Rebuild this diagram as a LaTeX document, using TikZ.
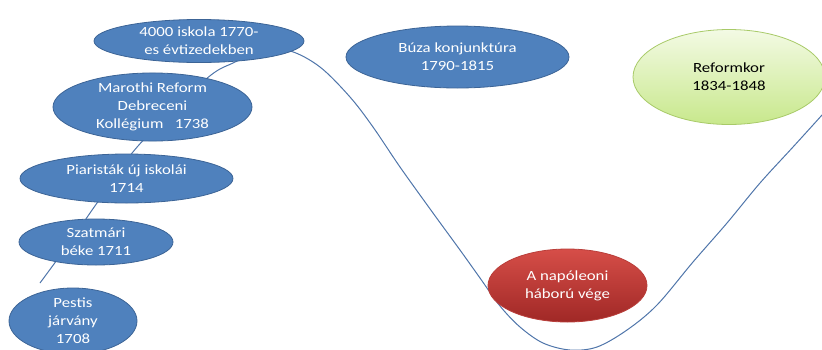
\documentclass[tikz,border=0pt]{standalone}
\usepackage{fontspec}
\setmainfont{Carlito}[FakeStretch=1.2]
\usetikzlibrary{shapes.geometric}
\definecolor{bfill}{RGB}{79,129,189}
\definecolor{bline}{RGB}{60,100,150}
\definecolor{curvec}{RGB}{79,117,170}
\definecolor{rtop}{RGB}{214,78,72}
\definecolor{rbot}{RGB}{160,40,38}
\definecolor{rline}{RGB}{185,62,58}
\definecolor{gtop}{RGB}{243,250,228}
\definecolor{gbot}{RGB}{200,232,140}
\definecolor{gline}{RGB}{168,202,104}
\begin{document}
\begin{tikzpicture}[x=1pt,y=-1pt,
  ev/.style={ellipse, inner sep=0pt, align=center, line width=0.8pt,
    font=\fontsize{14}{18}\selectfont},
  blueev/.style={ev, fill=bfill, draw=bline, text=white},
  redev/.style={ev, top color=rtop, bottom color=rbot, draw=rline, text=white},
  greenev/.style={ev, top color=gtop, bottom color=gbot, draw=gline, text=black},
  trend/.style={draw=curvec, line width=1pt}]
\useasboundingbox (0,0) rectangle (822,349);
\clip (0,0) rectangle (822,349);
\coordinate (start) at (40,283);
\coordinate (exit) at (834,101);
\draw[trend] plot[smooth, tension=0.55] coordinates {
  (start) (70,242) (97,203) (138,146) (205,80) (233,63) (262,52) (290,51)
  (320,67) (350,97) (373,127) (400,167) (433,213) (460,250) (480,278)
  (500,306) (520,327) (543,343) (570,350) (597,347) (627,330) (657,305)
  (693,262) (727,223) (760,183) (793,147) (822,115) (exit)};
\node[blueev, minimum width=210pt, minimum height=43pt] (e1) at (199,41)
  {4000 iskola 1770-\\es évtizedekben};
\node[blueev, minimum width=199pt, minimum height=62pt] (e2) at (152.5,107)
  {Marothi Reform\\Debreceni\\Kollégium\ \ \ 1738};
\node[blueev, minimum width=213pt, minimum height=49pt] (e3) at (126.5,178.5)
  {Piaristák új iskolái\\1714};
\node[blueev, minimum width=154pt, minimum height=46pt] (e4) at (96,242)
  {Szatmári\\béke 1711};
\node[blueev, minimum width=128pt, minimum height=66pt] (e5) at (73,321)
  {Pestis\\járvány\\1708};
\node[blueev, minimum width=223pt, minimum height=62pt] (buza) at (457.5,57)
  {Búza konjunktúra\\1790-1815};
\node[redev, minimum width=159pt, minimum height=73pt] (napo) at (567.5,285.5)
  {A napóleoni\\háború vége};
\node[greenev, minimum width=192pt, minimum height=95pt] (reform) at (729,77)
  {Reformkor\\1834-1848};
\end{tikzpicture}
\end{document}
